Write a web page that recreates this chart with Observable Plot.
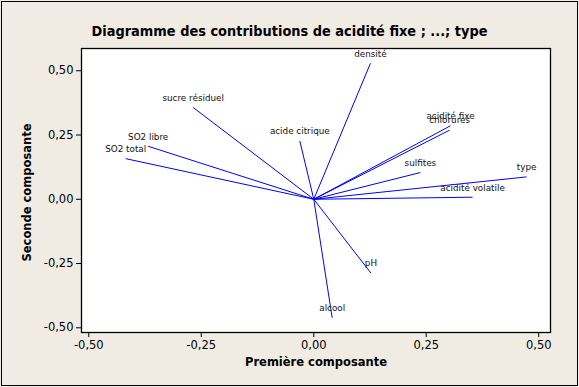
<!DOCTYPE html>
<html>
<head>
<meta charset="utf-8">
<script src="https://cdn.jsdelivr.net/npm/d3@7"></script>
<script src="https://cdn.jsdelivr.net/npm/@observablehq/plot@0.6"></script>
<style>
  html, body { margin: 0; padding: 0; background: #F0ECE3; }
  #chart svg { display: block; outline: 1px solid #000; outline-offset: -2px; }
</style>
</head>
<body>
<div id="chart"></div>
<script>
const variables = ["densité", "acidité fixe", "chlorures", "sulfites", "type", "acidité volatile",
  "acide citrique", "sucre résiduel", "SO2 libre", "SO2 total", "pH", "alcool"];
const pc1 = [0.126, 0.304, 0.302, 0.237, 0.473, 0.353, -0.031, -0.268, -0.368, -0.418, 0.127, 0.041];
const pc2 = [0.529, 0.286, 0.269, 0.104, 0.087, 0.008, 0.227, 0.357, 0.206, 0.158, -0.287, -0.461];
const xTicks = [-0.5, -0.25, 0, 0.25, 0.5];
const yTicks = [-0.5, -0.25, 0, 0.25, 0.5];
const title = "Diagramme des contributions de acidité fixe ; ...; type";
const xLabel = "Première composante";
const yLabel = "Seconde composante";

const data = variables.map((name, i) => ({name, pc1: pc1[i], pc2: pc2[i]}));
const fmt = d => d.toFixed(2).replace(".", ",");

const chart = Plot.plot({
  width: 579,
  height: 387,
  marginLeft: 81,
  marginRight: 29,
  marginTop: 48,
  marginBottom: 55,
  style: {background: "#F0ECE3", fontFamily: "DejaVu Sans", color: "#000"},
  x: {domain: [-0.5162, 0.5262]},
  y: {domain: [-0.5183, 0.5865]},
  marks: [
    Plot.frame({fill: "white", stroke: "#000", strokeWidth: 1.3}),
    Plot.axisX({ticks: xTicks, tickFormat: fmt, tickSize: 5, tickPadding: 3, fontSize: 11.5, label: null}),
    Plot.axisY({ticks: yTicks, tickFormat: fmt, tickSize: 5, tickPadding: 3, fontSize: 11.5, label: null}),
    Plot.link(data, {x1: () => 0, y1: () => 0, x2: "pc1", y2: "pc2", stroke: "#0000FF", strokeWidth: 1}),
    Plot.text(data, {x: "pc1", y: "pc2", text: "name", dy: -9.5, fontSize: 8.8, fill: "#111"}),
    Plot.text([title], {frameAnchor: "top", lineAnchor: "middle", textAnchor: "middle", dy: -17, dx: -26.5, text: d => d, fontSize: 14.5, fontWeight: "bold", className: "main-title"}),
    Plot.text([xLabel], {frameAnchor: "bottom", lineAnchor: "middle", textAnchor: "middle", dy: 30, text: d => d, fontSize: 11.5, fontWeight: "bold"}),
    Plot.text([yLabel], {frameAnchor: "left", lineAnchor: "middle", textAnchor: "middle", dx: -54, dy: 2, rotate: -90, text: d => d, fontSize: 11.5, fontWeight: "bold"})
  ]
});
const t = chart.querySelector(".main-title text");
if (t) { t.setAttribute("textLength", "396"); t.setAttribute("lengthAdjust", "spacingAndGlyphs"); }
document.getElementById("chart").appendChild(chart);
</script>
</body>
</html>
